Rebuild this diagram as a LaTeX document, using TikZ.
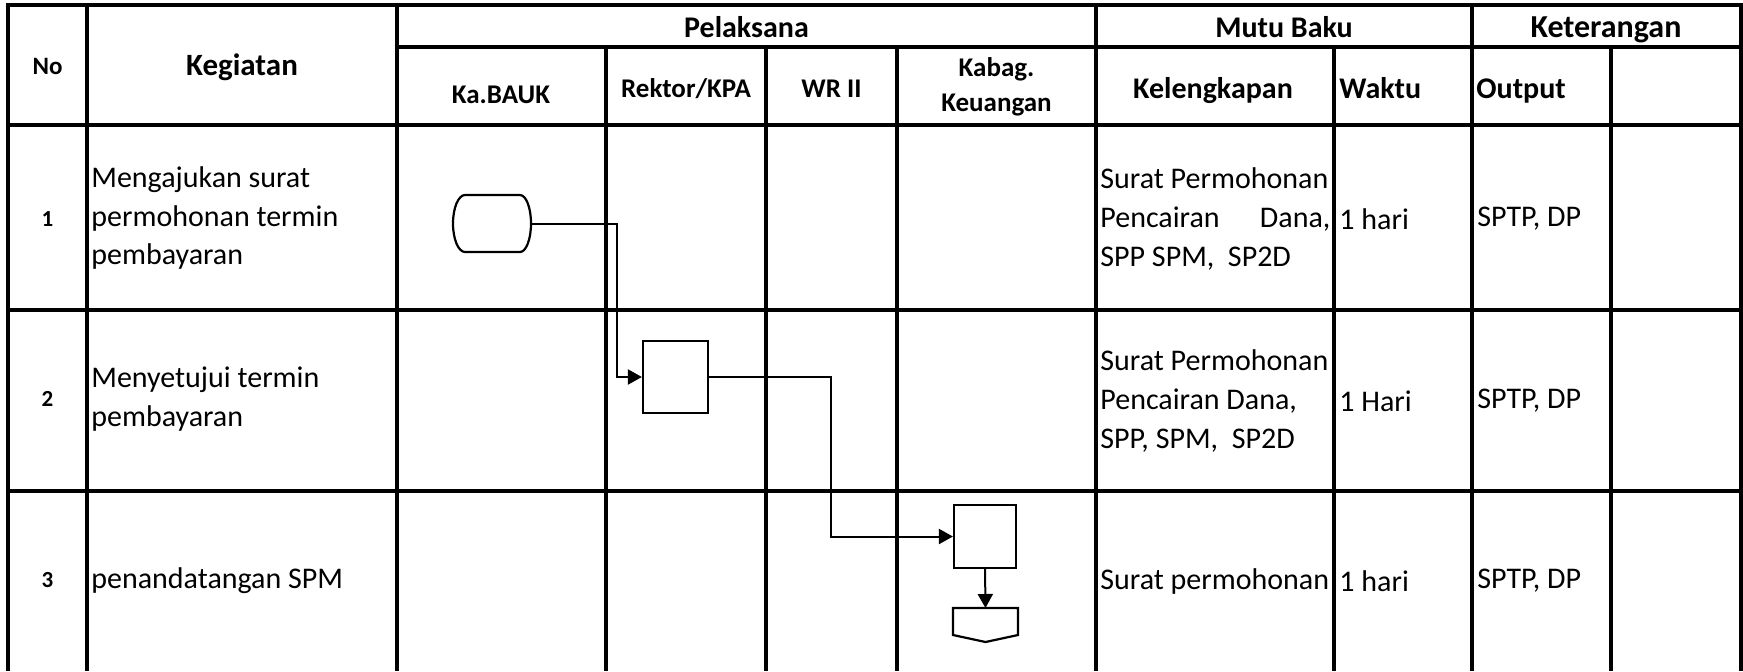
\documentclass[tikz,border=0pt]{standalone}
\usepackage{fontspec}
\setmainfont{Carlito}
\usetikzlibrary{arrows.meta,calc}
\begin{document}
\begin{tikzpicture}[x=0.5pt,y=-0.5pt,
  grid/.style={line width=1.8pt},
  flow/.style={line width=1pt},
  arr/.style={flow,-{Triangle[length=7pt,width=7.5pt]}},
  outline/.style={line width=1.1pt},
  hdrbig/.style={font=\bfseries\fontsize{15.5}{18}\selectfont,inner sep=0pt},
  hdrtop/.style={font=\bfseries\fontsize{15}{18}\selectfont,inner sep=0pt,anchor=base},
  hdrsub/.style={font=\bfseries\fontsize{13.5}{17.5}\selectfont,inner sep=0pt,align=center},
  hdrmb/.style={font=\bfseries\fontsize{15}{18}\selectfont,inner sep=0pt,anchor=base},
  body/.style={font=\fontsize{15}{19.4}\selectfont,inner sep=0pt,align=left,anchor=west},
  num/.style={font=\bfseries\fontsize{11.5}{13}\selectfont,inner sep=0pt},
  procbox/.style={draw,outline,inner sep=0pt},
  blank/.style={inner sep=0pt,outer sep=0pt}
]
\useasboundingbox (0,0) rectangle (1743,671);
% ---------- table grid ----------
\draw[grid] (8,671) -- (8,5) -- (1741,5) -- (1741,671);
\draw[grid] (397,47) -- (1741,47);
\draw[grid] (8,125) -- (1741,125);
\draw[grid] (8,310) -- (1741,310);
\draw[grid] (8,491) -- (1741,491);
\foreach \xx in {87,397,1096,1472} \draw[grid] (\xx,5) -- (\xx,671);
\foreach \xx in {606,766,897,1334,1611} \draw[grid] (\xx,47) -- (\xx,671);
% ---------- header ----------
\node[inner sep=0pt,font=\bfseries\fontsize{12.5}{14}\selectfont] (hno) at (47.5,66) {No};
\node[hdrbig] (hkeg) at (242,67) {Kegiatan};
\node[hdrtop] (hpel) at (746.5,37) {Pelaksana};
\node[hdrtop] (hmutu) at (1284,37) {Mutu Baku};
\node[hdrtop,font=\bfseries\fontsize{16}{18}\selectfont] (hket) at (1606,37) {Keterangan};
\node[hdrsub] (hbauk) at (501,95) {Ka.BAUK};
\node[hdrsub] (hrek) at (686,89) {Rektor/KPA};
\node[hdrsub] (hwr) at (831.5,89) {WR II};
\node[hdrsub] (hkab) at (996.5,87) {Kabag.\\Keuangan};
\node[hdrmb] (hkel) at (1213,98.5) {Kelengkapan};
\node[hdrmb,anchor=base west] (hwak) at (1339,98.5) {Waktu};
\node[hdrmb,anchor=base west] (hout) at (1476,98.5) {Output};
% ---------- rows ----------
\node[num] (n1) at (47.5,219) {1};
\node[num] (n2) at (47.5,399) {2};
\node[num] (n3) at (47.5,580) {3};
\node[body] (k1) at (91,218) {Mengajukan surat\\permohonan termin\\pembayaran};
\node[body] (k2) at (91,399) {Menyetujui termin\\pembayaran};
\node[body] (k3) at (91,581) {penandatangan SPM};
\node[body] (m1) at (1100,219) {Surat Permohonan\\\hbox to 115pt{Pencairan\hfill Dana,}\\SPP SPM,\ \ SP2D};
\node[body] (m2) at (1100,401) {Surat Permohonan\\Pencairan Dana,\\SPP, SPM,\ \ SP2D};
\node[body] (m3) at (1100,581) {Surat permohonan};
\node[body] (w1) at (1339,219) {1 hari};
\node[body] (w2) at (1339,401) {1 Hari};
\node[body] (w3) at (1339,581) {1 hari};
\node[body] (o1) at (1477,219) {SPTP, DP};
\node[body] (o2) at (1477,401) {SPTP, DP};
\node[body] (o3) at (1477,581) {SPTP, DP};
% ---------- flowchart ----------
\node[blank,minimum width=39pt,minimum height=28.5pt] (t1) at (492,223.5) {};
\draw[outline] ($(t1)+(-27,-28.5)$) -- ($(t1)+(28,-28.5)$)
  .. controls ($(t1)+(34.1,-28.5)$) and ($(t1)+(39,-15.7)$) .. ($(t1)+(39,0)$)
  .. controls ($(t1)+(39,15.7)$) and ($(t1)+(34.1,28.5)$) .. ($(t1)+(28,28.5)$)
  -- ($(t1)+(-27,28.5)$)
  .. controls ($(t1)+(-33.6,28.5)$) and ($(t1)+(-39,15.7)$) .. ($(t1)+(-39,0)$)
  .. controls ($(t1)+(-39,-15.7)$) and ($(t1)+(-33.6,-28.5)$) .. cycle;
\node[procbox,minimum width=32.5pt,minimum height=36pt] (p2) at (675.5,377) {};
\node[procbox,minimum width=31pt,minimum height=31.5pt] (p3) at (985,536.5) {};
\node[blank,minimum width=32.5pt,minimum height=17pt] (off) at (985.5,625) {};
\draw[outline] (off.north west) -- (off.north east) -- ($(off.south east)+(0,-7)$)
  -- (off.south) -- ($(off.south west)+(0,-7)$) -- cycle;
\coordinate (e1) at (617,0);
\coordinate (e2) at (831,0);
\draw[arr] (t1.east) -- (t1.east -| e1) |- (p2.west);
\draw[arr] (p2.east) -- (p2.east -| e2) |- (p3.west);
\draw[arr] (p3.south) -- (off.north);
\end{tikzpicture}
\end{document}
